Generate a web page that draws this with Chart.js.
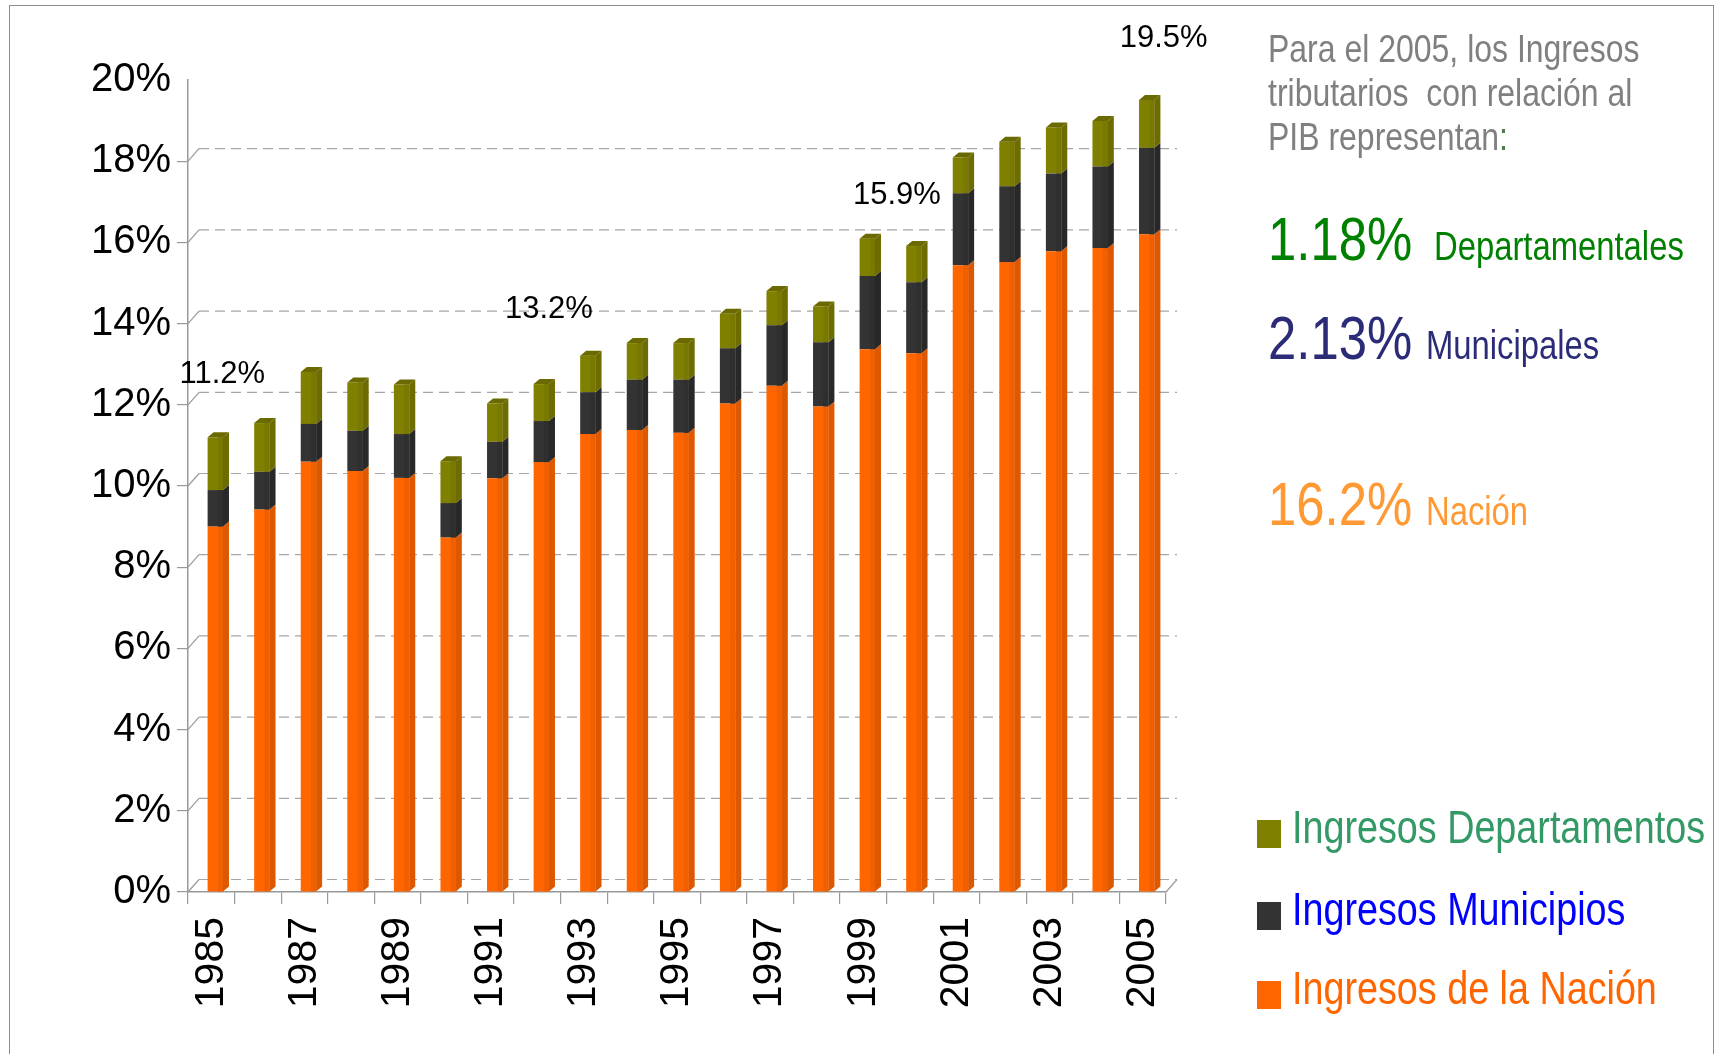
<!DOCTYPE html>
<html>
<head>
<meta charset="utf-8">
<script src="https://cdn.jsdelivr.net/npm/chart.js@4.4.1/dist/chart.umd.min.js"></script>
<style>
  html, body { margin: 0; padding: 0; background: #ffffff; }
  body { width: 1721px; height: 1054px; position: relative; overflow: hidden; }
  #frame { position: absolute; left: 9px; top: 5px; width: 1705px; height: 1070px; border: 1.5px solid #8c8c8c; box-sizing: border-box; }
  #c { position: absolute; left: 0; top: 0; }
  .t { position: absolute; white-space: pre; line-height: 1; font-family: 'Liberation Sans', Arial, sans-serif; transform: scaleX(0.82); transform-origin: 0 0; }
  .sq { position: absolute; width: 24px; height: 28px; }
</style>
</head>
<body>
<div id="frame"></div>
<canvas id="c" width="1721" height="1054"></canvas>

<div class="t" style="left:1268px; top:29px; font-size:39px; color:#808080;">Para el 2005, los Ingresos</div>
<div class="t" style="left:1268px; top:73px; font-size:39px; color:#808080;">tributarios  con relación al</div>
<div class="t" style="left:1268px; top:117px; font-size:39px; color:#808080;">PIB representan<span style="color:#4f7a4f">:</span></div>

<div class="t" style="left:1268px; top:208px; font-size:62px; color:#008000;">1.18%</div>
<div class="t" style="left:1434px; top:226px; font-size:40px; color:#008000;">Departamentales</div>

<div class="t" style="left:1268px; top:307px; font-size:62px; color:#2b2b78;">2.13%</div>
<div class="t" style="left:1426px; top:325px; font-size:40px; color:#2b2b78;">Municipales</div>

<div class="t" style="left:1268px; top:473px; font-size:62px; color:#ff9933;">16.2%</div>
<div class="t" style="left:1426px; top:491px; font-size:40px; color:#ff9933;">Nación</div>

<div class="sq" style="left:1257px; top:820px; background:#808000;"></div>
<div class="t" style="left:1292px; top:804px; font-size:46px; color:#339966;">Ingresos Departamentos</div>
<div class="sq" style="left:1257px; top:902px; background:#333333;"></div>
<div class="t" style="left:1292px; top:886px; font-size:46px; color:#0000ff;">Ingresos Municipios</div>
<div class="sq" style="left:1257px; top:981px; background:#ff6600;"></div>
<div class="t" style="left:1292px; top:965px; font-size:46px; color:#ff6600;">Ingresos de la Nación</div>

<script>
// ---- data ----
const years = ['1985','1986','1987','1988','1989','1990','1991','1992','1993','1994','1995',
               '1996','1997','1998','1999','2000','2001','2002','2003','2004','2005'];
const nacion = [9.0, 9.42, 10.6, 10.37, 10.2, 8.73, 10.19, 10.59, 11.28, 11.38, 11.31,
                12.03, 12.47, 11.96, 13.37, 13.27, 15.44, 15.52, 15.78, 15.86, 16.2];
const municipios = [0.9, 0.93, 0.93, 0.99, 1.08, 0.85, 0.9, 1.01, 1.03, 1.24, 1.31,
                    1.36, 1.49, 1.58, 1.8, 1.75, 1.77, 1.86, 1.92, 2.01, 2.13];
const departamentos = [1.3, 1.2, 1.28, 1.19, 1.22, 1.03, 0.94, 0.91, 0.9, 0.9, 0.9,
                       0.85, 0.84, 0.88, 0.92, 0.89, 0.88, 1.1, 1.13, 1.12, 1.18];
const seriesNames = ['Ingresos de la Nación', 'Ingresos Municipios', 'Ingresos Departamentos'];
const calloutYears = ['1985', '1993', '2000', '2005'];
const calloutTexts = ['11.2%', '13.2%', '15.9%', '19.5%'];

// ---- styles ----
const calloutShift = [[11, -54], [-35, -38], [-13, -42], [21, -53]];
const faceColors = [
  { front: '#ff6600', mid: '#f06000', side: '#de5800', top: '#e86000' },
  { front: '#333333', mid: '#2f2f2f', side: '#282828', top: '#2a2a2a' },
  { front: '#808000', mid: '#797900', side: '#6c6c00', top: '#6a6a00' }
];
const DX = 6, DY = 5;          // bar depth
const WX = 11, WY = 12.5;      // back wall offset
const BAR_SHIFT = 4;           // 3D bars sit slightly right of category centre
const FONT = "'Liberation Sans', Arial, sans-serif";

const wallPlugin = {
  id: 'wall',
  beforeDatasetsDraw(chart) {
    const ctx = chart.ctx, y = chart.scales.y, a = chart.chartArea;
    ctx.save();
    ctx.lineWidth = 1.2;
    for (let v = 0; v <= 18; v += 2) {
      const py = y.getPixelForValue(v);
      ctx.strokeStyle = '#a6a6a6';
      ctx.setLineDash([10, 6]);
      ctx.beginPath();
      ctx.moveTo(a.left + WX, py - WY);
      ctx.lineTo(a.right + WX, py - WY);
      ctx.stroke();
      ctx.setLineDash([]);
      ctx.strokeStyle = '#999999';
      ctx.beginPath();
      ctx.moveTo(a.left, py);
      ctx.lineTo(a.left + WX, py - WY);
      ctx.stroke();
    }
    const p0 = y.getPixelForValue(0);
    ctx.strokeStyle = '#999999';
    ctx.beginPath();
    ctx.moveTo(a.right, p0);
    ctx.lineTo(a.right + WX, p0 - WY);
    ctx.stroke();
    ctx.restore();
    // shift the bars (front faces drawn by Chart.js) a few pixels right
    ctx.save();
    ctx.translate(BAR_SHIFT, 0);
  },
  afterDatasetsDraw(chart) {
    const ctx = chart.ctx;
    const n = chart.data.datasets.length;
    for (let d = 0; d < n; d++) {
      const meta = chart.getDatasetMeta(d);
      const col = faceColors[d];
      meta.data.forEach((bar) => {
        const p = bar.getProps(['x', 'y', 'base', 'width'], true);
        const left = p.x - p.width / 2, right = p.x + p.width / 2;
        const top = Math.min(p.y, p.base), bottom = Math.max(p.y, p.base);
        ctx.fillStyle = col.mid;
        ctx.fillRect(right - p.width * 0.33, top, p.width * 0.33, bottom - top);
        ctx.fillStyle = col.side;
        ctx.beginPath();
        ctx.moveTo(right, bottom);
        ctx.lineTo(right, top);
        ctx.lineTo(right + DX, top - DY);
        ctx.lineTo(right + DX, bottom - DY);
        ctx.closePath();
        ctx.fill();
        if (d === n - 1) {
          ctx.fillStyle = col.top;
          ctx.beginPath();
          ctx.moveTo(left, top);
          ctx.lineTo(left + DX, top - DY);
          ctx.lineTo(right + DX, top - DY);
          ctx.lineTo(right, top);
          ctx.closePath();
          ctx.fill();
        }
      });
    }
    ctx.restore();
  }
};

const calloutPlugin = {
  id: 'callouts',
  afterDraw(chart) {
    const ctx = chart.ctx, xs = chart.scales.x, ys = chart.scales.y;
    ctx.save();
    ctx.font = '31px ' + FONT;
    ctx.fillStyle = '#000000';
    ctx.textAlign = 'center';
    ctx.textBaseline = 'alphabetic';
    calloutYears.forEach((yr, k) => {
      const i = years.indexOf(yr);
      const total = nacion[i] + municipios[i] + departamentos[i];
      const px = xs.getPixelForValue(i) + calloutShift[k][0];
      const py = ys.getPixelForValue(total) + calloutShift[k][1];
      ctx.fillText(calloutTexts[k], px, py);
    });
    ctx.restore();
  }
};

new Chart(document.getElementById('c'), {
  type: 'bar',
  data: {
    labels: years,
    datasets: [
      { label: seriesNames[0], data: nacion, backgroundColor: faceColors[0].front },
      { label: seriesNames[1], data: municipios, backgroundColor: faceColors[1].front },
      { label: seriesNames[2], data: departamentos, backgroundColor: faceColors[2].front }
    ]
  },
  options: {
    responsive: false,
    animation: false,
    devicePixelRatio: 1,
    layout: { padding: { left: 0, top: 80, right: 555, bottom: 0 } },
    datasets: { bar: { barPercentage: 0.33, categoryPercentage: 1.0, borderWidth: 0 } },
    plugins: { legend: { display: false }, tooltip: { enabled: false } },
    scales: {
      x: {
        stacked: true,
        afterFit: (s) => { s.height = 162; },
        grid: { offset: true, drawOnChartArea: false, drawTicks: true, tickLength: 12, color: '#999999', lineWidth: 1.2 },
        border: { display: true, color: '#999999', width: 1.5 },
        ticks: {
          autoSkip: false, minRotation: 90, maxRotation: 90, padding: 13,
          color: '#000000', font: { family: FONT, size: 41 },
          callback: (v, i) => (i % 2 === 0 ? years[i] : '')
        }
      },
      y: {
        stacked: true, min: 0, max: 20,
        afterFit: (s) => { s.width = 188; },
        grid: {
          drawOnChartArea: false, drawTicks: true, tickLength: 11, lineWidth: 1.2,
          color: (c) => (c.tick && c.tick.value === 20 ? 'rgba(0,0,0,0)' : '#999999')
        },
        border: { display: true, color: '#999999', width: 1.5 },
        ticks: {
          stepSize: 2, padding: 6, color: '#000000', font: { family: FONT, size: 40 },
          callback: (v) => v + '%'
        }
      }
    }
  },
  plugins: [wallPlugin, calloutPlugin]
});
</script>
</body>
</html>
